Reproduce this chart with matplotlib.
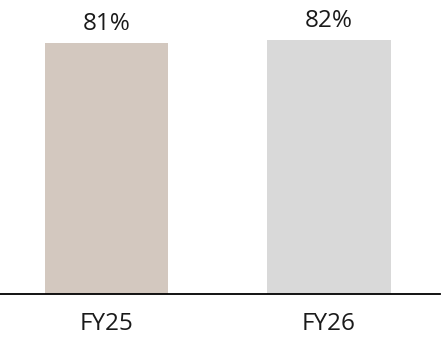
import matplotlib
matplotlib.use("Agg")
import matplotlib.pyplot as plt

categories = ["FY25", "FY26"]
values = [81, 82]
colors = ["#D3C8BF", "#D9D9D9"]

plt.rcParams["font.family"] = ["Open Sans", "DejaVu Sans"]

fig = plt.figure(figsize=(4.43, 3.42), dpi=100)
ax = fig.add_axes([0.0, 48 / 342, 440 / 443, 294 / 342])

x = list(range(len(categories)))
bars = ax.bar(x, values, width=0.553, color=colors, zorder=2)

for xi, v in zip(x, values):
    ax.annotate(f"{v}%", (xi, v), xytext=(0, 5), textcoords="offset points",
                ha="center", va="bottom", fontsize=17.5, color="#1a1a1a")

ax.set_xlim(-0.479, 1.499)
ax.set_ylim(0, 94.9)
ax.set_xticks(x)
ax.set_xticklabels(categories, fontsize=17.5, color="#1a1a1a")
ax.tick_params(axis="x", length=0, pad=13)
ax.set_yticks([])
for side in ["top", "right", "left"]:
    ax.spines[side].set_visible(False)
ax.spines["bottom"].set_color("#000000")
ax.spines["bottom"].set_linewidth(1.3)

fig.savefig("out.png", dpi=100)
